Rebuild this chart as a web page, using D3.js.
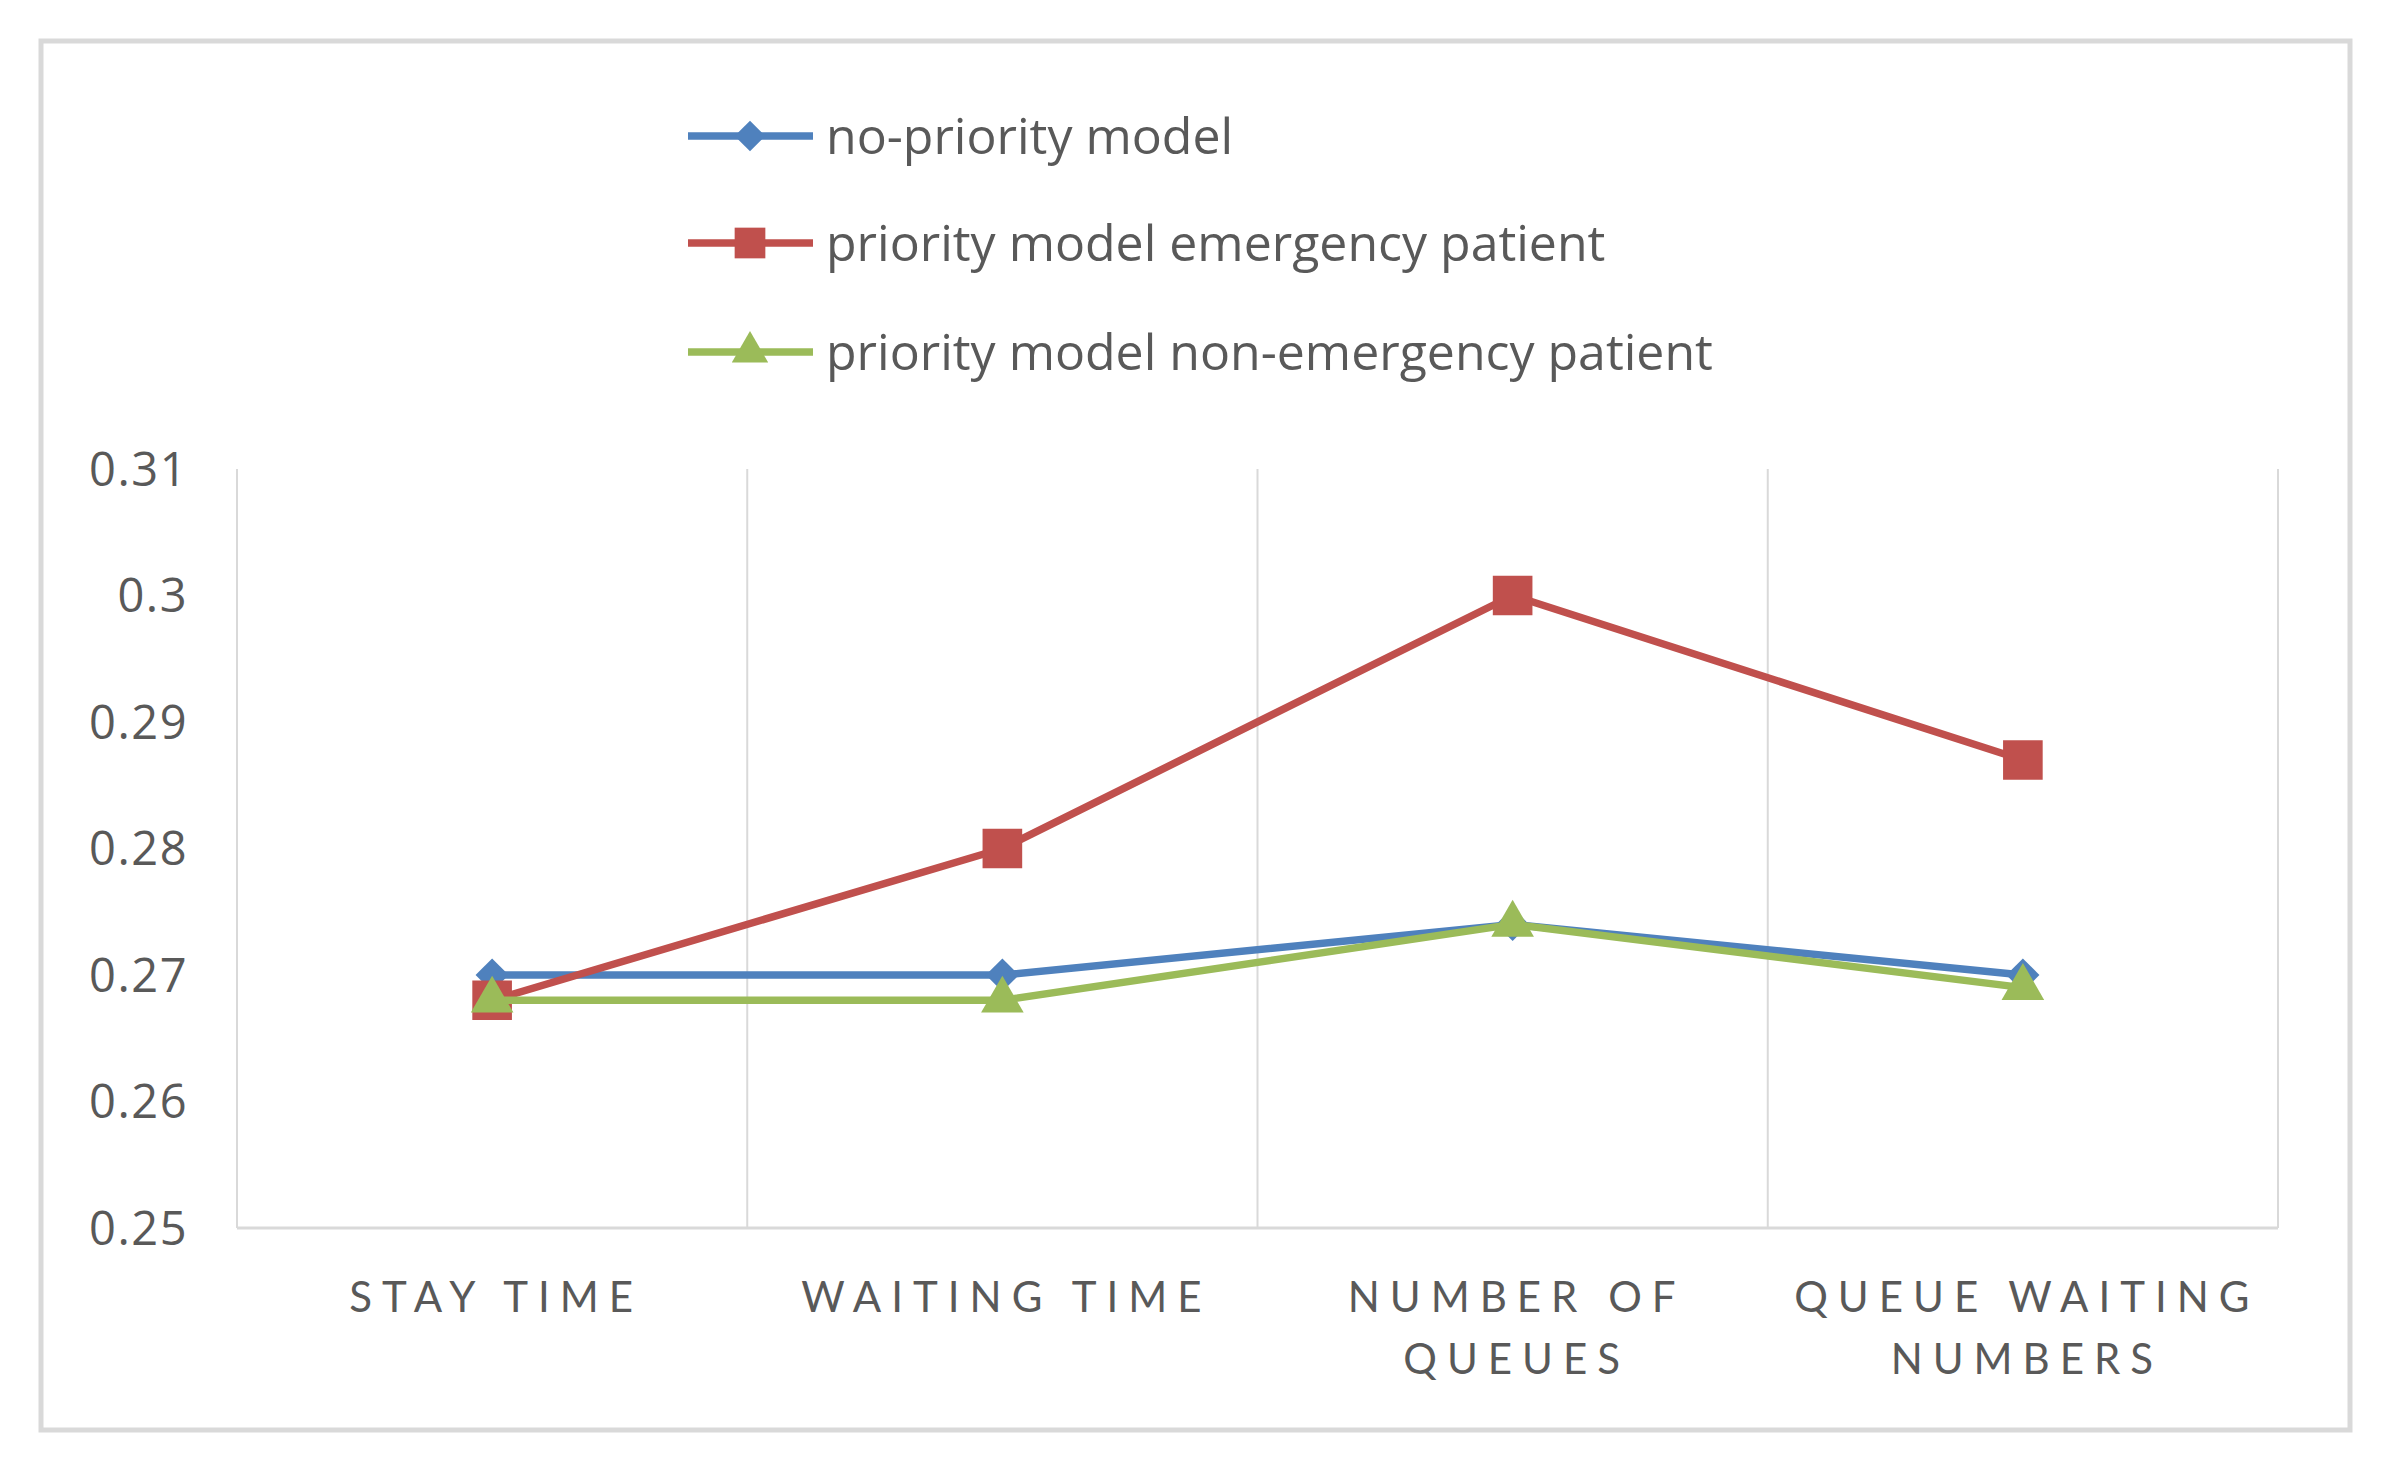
<!DOCTYPE html>
<html>
<head>
<meta charset="utf-8">
<script src="https://cdn.jsdelivr.net/npm/d3@7"></script>
<style>
  body { margin: 0; background: #fff; }
  svg text { font-family: "Open Sans", Lato, sans-serif; fill: #595959; }
</style>
</head>
<body>
<div id="chart"></div>
<script>
// Data
let categories = ['STAY TIME', 'WAITING TIME', 'NUMBER OF QUEUES', 'QUEUE WAITING NUMBERS'];
let categoryLines = [['STAY TIME'], ['WAITING TIME'], ['NUMBER OF', 'QUEUES'], ['QUEUE WAITING', 'NUMBERS']];
let seriesNames = ['no-priority model', 'priority model emergency patient', 'priority model non-emergency patient'];
let noPriority = [0.27, 0.27, 0.274, 0.27];
let emergency = [0.268, 0.28, 0.3, 0.287];
let nonEmergency = [0.268, 0.268, 0.274, 0.269];
let yTicks = [0.25, 0.26, 0.27, 0.28, 0.29, 0.3, 0.31];

let series = [
  { name: seriesNames[0], values: noPriority, color: '#4f81bd', symbol: d3.symbolDiamond2, size: 700, legendSize: 600 },
  { name: seriesNames[1], values: emergency, color: '#c0504d', symbol: d3.symbolSquare2, size: 2000, legendSize: 1200 },
  { name: seriesNames[2], values: nonEmergency, color: '#9bbb59', symbol: d3.symbolTriangle2, size: 1300, legendSize: 950 },
];

let width = 2397;
let height = 1473;
let plotLeft = 237, plotRight = 2278, plotTop = 469, plotBottom = 1228;

let svg = d3.select('#chart').append('svg').attr('width', width).attr('height', height);

// outer border
svg.append('rect')
  .attr('x', 41).attr('y', 41)
  .attr('width', 2309).attr('height', 1389)
  .attr('fill', 'none').attr('stroke', '#d9d9d9').attr('stroke-width', 5);

let x = d3.scaleBand().domain(categories).range([plotLeft, plotRight]);
let y = d3.scaleLinear().domain([0.25, 0.31]).range([plotBottom, plotTop]);

// vertical gridlines at band edges
let edges = categories.map(c => x(c)).concat([plotRight]);
svg.append('g').selectAll('line').data(edges).join('line')
  .attr('x1', d => d).attr('x2', d => d)
  .attr('y1', plotTop).attr('y2', plotBottom)
  .attr('stroke', '#d9d9d9').attr('stroke-width', 2);

// bottom axis line
svg.append('line')
  .attr('x1', plotLeft).attr('x2', plotRight)
  .attr('y1', plotBottom).attr('y2', plotBottom)
  .attr('stroke', '#d9d9d9').attr('stroke-width', 3);

// y axis
let yAxis = svg.append('g')
  .attr('transform', 'translate(' + (plotLeft - 46) + ',0)')
  .call(d3.axisLeft(y).tickValues(yTicks).tickSize(0).tickFormat(d => String(+d.toFixed(2))));
yAxis.select('.domain').remove();
yAxis.selectAll('text')
  .style('font-size', '47px')
  .style('letter-spacing', '1.5px')
  .style('font-family', '"Open Sans", Lato, sans-serif')
  .attr('fill', '#595959')
  .attr('dy', '0.35em');

// x labels
let cx = c => x(c) + x.bandwidth() / 2;
let xl = svg.append('g').selectAll('text').data(categories).join('text')
  .attr('x', d => cx(d))
  .attr('y', 1312)
  .attr('text-anchor', 'middle')
  .style('font-family', 'Lato, sans-serif')
  .style('font-size', '42px')
  .style('letter-spacing', '10px');
xl.each(function (d, i) {
  d3.select(this).selectAll('tspan').data(categoryLines[i]).join('tspan')
    .attr('x', cx(d) + 4)
    .attr('dy', (t, j) => (j === 0 ? 0 : 62))
    .text(t => t);
});

// lines and markers
let line = d3.line().x((v, i) => cx(categories[i])).y(v => y(v));

series.forEach(s => {
  svg.append('path')
    .datum(s.values)
    .attr('d', line)
    .attr('fill', 'none')
    .attr('stroke', s.color)
    .attr('stroke-width', 7.5)
    .attr('stroke-linejoin', 'round');

  svg.append('g').selectAll('path').data(s.values).join('path')
    .attr('transform', (v, i) => 'translate(' + cx(categories[i]) + ',' + y(v) + ')')
    .attr('d', d3.symbol().type(s.symbol).size(s.size))
    .attr('fill', s.color);
});

// legend
let legendY = [136, 243, 352];
let legend = svg.append('g').selectAll('g').data(series).join('g')
  .attr('transform', (s, i) => 'translate(0,' + legendY[i] + ')');
legend.append('line')
  .attr('x1', 688).attr('x2', 813)
  .attr('y1', 0).attr('y2', 0)
  .attr('stroke', s => s.color).attr('stroke-width', 7.5);
legend.append('path')
  .attr('transform', 'translate(750,0)')
  .attr('d', s => d3.symbol().type(s.symbol).size(s.legendSize)())
  .attr('fill', s => s.color);
legend.append('text')
  .attr('x', 826).attr('y', 0).attr('dy', '0.35em')
  .style('font-size', '50px')
  .text(s => s.name);
</script>
</body>
</html>
